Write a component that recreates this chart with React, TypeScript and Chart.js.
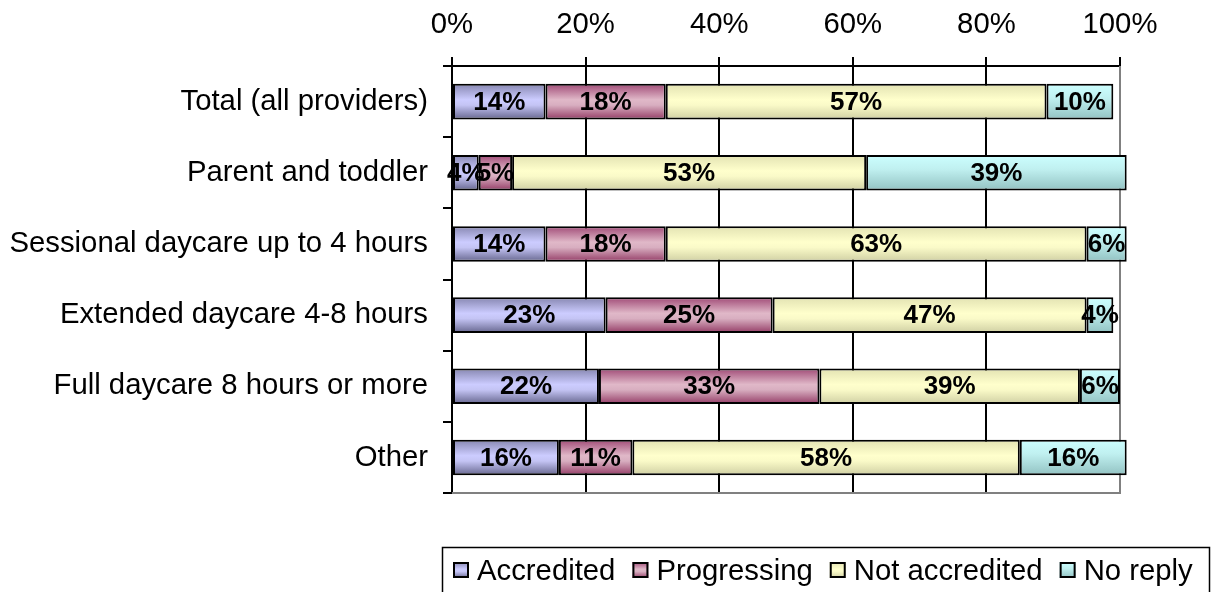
import React, { useEffect, useRef } from "react";
import { Chart, registerables } from "chart.js";

Chart.register(...registerables);

const categories = [
  "Total (all providers)",
  "Parent and toddler",
  "Sessional daycare up to 4 hours",
  "Extended daycare 4-8 hours",
  "Full daycare 8 hours or more",
  "Other",
];
const seriesNames = ["Accredited", "Progressing", "Not accredited", "No reply"];
const accredited = [14, 4, 14, 23, 22, 16];
const progressing = [18, 5, 18, 25, 33, 11];
const notAccredited = [57, 53, 63, 47, 39, 58];
const noReply = [10, 39, 6, 4, 6, 16];
const xTicks = [0, 20, 40, 60, 80, 100];

const FONT = "'Liberation Sans', Arial, sans-serif";

const gradientStops: [number, string][][] = [
  [[0, "#8686b0"], [0.45, "#ccccff"], [0.6, "#c4c4f4"], [1, "#66668e"]],
  [[0, "#a04a76"], [0.45, "#e0b8c8"], [0.6, "#d8aec0"], [1, "#943c66"]],
  [[0, "#e2e2b2"], [0.45, "#ffffcc"], [0.6, "#fafac8"], [1, "#cfcfa3"]],
  [[0, "#ccffff"], [0.4, "#c0f0f0"], [1, "#92c2c2"]],
];

function makeGradient(c: CanvasRenderingContext2D, y0: number, y1: number, idx: number) {
  const g = c.createLinearGradient(0, y0, 0, y1);
  for (const [o, col] of gradientStops[idx]) g.addColorStop(o, col);
  return g;
}

const BAR_PCT = 0.5;

function bg(idx: number) {
  return (ctx: any) => {
    const chart = ctx.chart;
    const y = chart.scales && chart.scales.y;
    const fallback = gradientStops[idx][1][1];
    if (!y || ctx.type !== "data") return fallback;
    const center = y.getPixelForValue(ctx.dataIndex);
    const half = ((y.bottom - y.top) / categories.length) * BAR_PCT / 2;
    if (!isFinite(center) || !isFinite(half) || half <= 0) return fallback;
    return makeGradient(chart.ctx, center - half, center + half, idx);
  };
}

const frameAndLabels = {
  id: "frameAndLabels",
  beforeDatasetsDraw(chart: any) {
    const { ctx, chartArea } = chart;
    ctx.save();
    ctx.strokeStyle = "#808080";
    ctx.lineWidth = 2;
    ctx.beginPath();
    ctx.moveTo(chartArea.right, chartArea.top);
    ctx.lineTo(chartArea.right, chartArea.bottom);
    ctx.lineTo(chartArea.left, chartArea.bottom);
    ctx.stroke();
    ctx.restore();
  },
  afterDatasetsDraw(chart: any) {
    const { ctx } = chart;
    ctx.save();
    ctx.font = `bold 26px ${FONT}`;
    ctx.fillStyle = "#000";
    ctx.textAlign = "center";
    ctx.textBaseline = "middle";
    chart.data.datasets.forEach((ds: any, di: number) => {
      const meta = chart.getDatasetMeta(di);
      meta.data.forEach((el: any, i: number) => {
        const v = ds.data[i];
        const cx = (el.x + el.base) / 2;
        ctx.fillText(v + "%", cx, el.y + 1);
      });
    });
    ctx.restore();
  },
  afterDraw(chart: any) {
    const { ctx } = chart;
    ctx.save();
    ctx.strokeStyle = "#000";
    ctx.lineWidth = 1.5;
    ctx.strokeRect(442.5, 547.5, 767, 60);
    ctx.font = `29.3px ${FONT}`;
    ctx.textBaseline = "alphabetic";
    ctx.textAlign = "left";
    let x = 453;
    const sy = 562;
    const sz = 16;
    seriesNames.forEach((name, i) => {
      ctx.fillStyle = makeGradient(ctx, sy, sy + sz, i);
      ctx.fillRect(x, sy, sz, sz);
      ctx.lineWidth = 2;
      ctx.strokeStyle = "#000";
      ctx.strokeRect(x + 1, sy + 1, sz - 2, sz - 2);
      ctx.fillStyle = "#000";
      const tx = x + sz + 8;
      ctx.fillText(name, tx, 580);
      x = tx + ctx.measureText(name).width + 17;
    });
    ctx.restore();
  },
};

export default function App() {
  const ref = useRef<HTMLCanvasElement>(null);
  useEffect(() => {
    document.body.style.margin = "0";
    const seriesData = [accredited, progressing, notAccredited, noReply];
    const chart = new Chart(ref.current!, {
      type: "bar",
      data: {
        labels: categories,
        datasets: seriesNames.map((name, i) => ({
          label: name,
          data: seriesData[i],
          backgroundColor: bg(i),
          borderColor: "#000",
          borderWidth: 2,
          borderSkipped: false,
          barPercentage: BAR_PCT,
          categoryPercentage: 1,
          clip: false as any,
        })),
      },
      options: {
        indexAxis: "y",
        animation: false,
        responsive: false,
        layout: { padding: { top: 0, left: 0, right: 98, bottom: 99 } },
        plugins: { legend: { display: false }, tooltip: { enabled: false } },
        scales: {
          x: {
            position: "top",
            stacked: true,
            min: 0,
            max: 100,
            afterBuildTicks: (s: any) => {
              s.ticks = xTicks.map((v) => ({ value: v }));
            },
            afterFit: (s: any) => {
              s.height = 66;
            },
            ticks: {
              callback: (v: any) => v + "%",
              color: "#000",
              font: { family: FONT, size: 29.3 },
              padding: 15,
              maxRotation: 0,
            },
            grid: { color: "#000", lineWidth: 2, tickLength: 9, drawOnChartArea: true },
            border: { display: true, color: "#000", width: 2 },
          },
          y: {
            stacked: true,
            afterFit: (s: any) => {
              s.width = 452;
            },
            ticks: {
              color: "#000",
              font: { family: FONT, size: 29.3 },
              padding: 15,
            },
            grid: {
              offset: true,
              drawOnChartArea: false,
              drawTicks: true,
              tickLength: 9,
              color: "#000",
              lineWidth: 2,
            },
            border: { display: true, color: "#000", width: 2 },
          },
        },
      },
      plugins: [frameAndLabels],
    });
    return () => chart.destroy();
  }, []);
  return (
    <div style={{ position: "fixed", left: 0, top: 0, width: 1218, height: 592, background: "#fff" }}>
      <canvas ref={ref} width={1218} height={592} />
    </div>
  );
}
